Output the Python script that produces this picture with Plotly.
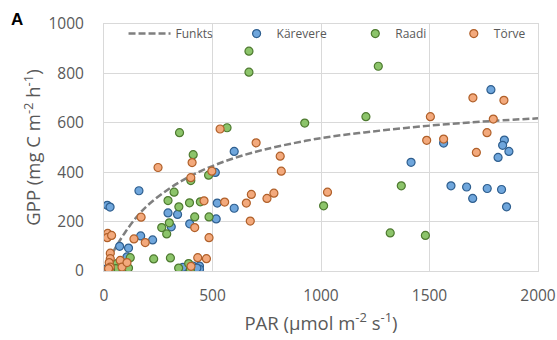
import plotly.graph_objects as go

# ---- data ----
curve_par = [20, 50, 100, 150, 200, 300, 400, 500, 600, 700, 800, 1000, 1200, 1400, 1600, 1800, 2000]
curve_gpp = [38, 90, 160, 218, 265, 333, 385, 425, 457, 483, 504, 538, 561, 580, 596, 608, 618]

karevere_par = [1783, 1845, 1837, 1866, 1816, 1415, 1565, 1599, 1671, 1699, 1766, 1832, 1855,
                600, 513, 161, 522, 600, 295, 339, 517, 395, 310, 169, 224, 72, 113, 15, 28,
                106, 14, 364, 410, 440, 440, 428]
karevere_gpp = [734, 530, 509, 484, 460, 440, 518, 345, 340, 294, 334, 330, 260,
                484, 399, 325, 275, 254, 235, 229, 211, 191, 179, 142, 126, 100, 93, 266, 259,
                57, 10, 15, 20, 20, 7, 12]

raadi_par = [668, 668, 1264, 1207, 925, 348, 567, 411, 482, 400, 323, 295, 394, 444, 345, 418,
             484, 301, 266, 289, 1370, 1012, 1319, 1481, 229, 306, 121, 60, 55, 113, 344, 390,
             398, 30]
raadi_gpp = [890, 805, 829, 625, 599, 560, 580, 471, 388, 366, 319, 285, 276, 280, 260, 219,
             219, 195, 176, 150, 345, 264, 154, 144, 49, 53, 54, 30, 10, 12, 12, 30,
             6, 5]

torve_par = [1700, 1843, 1504, 1794, 535, 1765, 701, 1487, 1565, 1716, 1030, 812, 406, 249,
             817, 497, 400, 461, 556, 656, 679, 751, 783, 674, 171, 418, 484, 138, 190, 17,
             15, 35, 432, 472, 401, 29, 29, 24, 29, 21, 75, 83, 106]
torve_gpp = [701, 691, 625, 615, 575, 560, 519, 529, 534, 480, 319, 465, 439, 419,
             404, 404, 378, 284, 279, 275, 310, 294, 315, 202, 218, 176, 135, 130, 115, 152,
             135, 144, 54, 50, 19, 72, 50, 34, 16, 10, 43, 16, 34]

x_ticks = [0, 500, 1000, 1500, 2000]
y_ticks = [0, 200, 400, 600, 800, 1000]

GRAY_TXT = "#595959"
FONT = "Open Sans"

fig = go.Figure()

fig.add_trace(go.Scatter(
    x=curve_par, y=curve_gpp, mode="lines", name="Funkts", line_shape="spline",
    line=dict(color="#7f7f7f", width=2.5, dash="7px,3px"), legend="legend",
    showlegend=True,
))

def add_points(xs, ys, name, fill, edge, leg):
    fig.add_trace(go.Scatter(
        x=xs, y=ys, mode="markers", name=name, legend=leg, showlegend=True,
        marker=dict(size=8, color=fill, line=dict(color=edge, width=1.2)),
    ))

add_points(karevere_par, karevere_gpp, "Kärevere", "#6fa6dc", "#2f5f8f", "legend2")
add_points(raadi_par, raadi_gpp, "Raadi", "#8cc46a", "#4e7a30", "legend3")
add_points(torve_par, torve_gpp, "Törve", "#f3a97c", "#b0602a", "legend4")

def leg(x, iw=30):
    return dict(
        orientation="h", x=x, y=1.02, xanchor="left", yanchor="top",
        bgcolor="rgba(0,0,0,0)", font=dict(size=12, color=GRAY_TXT, family=FONT),
        itemwidth=iw,
    )

fig.update_layout(
    width=557, height=340,
    margin=dict(l=104, r=19, t=24, b=69),
    paper_bgcolor="white", plot_bgcolor="white",
    font=dict(family=FONT, color=GRAY_TXT),
    showlegend=True,
    legend=leg(0.045, 42),
    legend2=leg(0.3055),
    legend3=leg(0.579),
    legend4=leg(0.806),
    xaxis=dict(
        range=[0, 2000], tickvals=x_ticks, showgrid=True, gridcolor="#d9d9d9", gridwidth=1,
        zeroline=False, showline=True, linecolor="#d9d9d9", mirror=True, automargin=False,
        tickfont=dict(size=15.5, color=GRAY_TXT), ticks="", ticklabelstandoff=10,
        title=dict(text="PAR (µmol m<sup>-2</sup> s<sup>-1</sup>)", font=dict(size=18.5, color=GRAY_TXT), standoff=12),
    ),
    yaxis=dict(
        range=[0, 1000], tickvals=y_ticks, showgrid=True, gridcolor="#d9d9d9", gridwidth=1,
        zeroline=False, showline=True, linecolor="#d9d9d9", mirror=True, automargin=False,
        tickfont=dict(size=15.5, color=GRAY_TXT), ticks="", ticklabelstandoff=16,
        title=dict(text="GPP (mg C m<sup>-2</sup> h<sup>-1</sup>)", font=dict(size=18.5, color=GRAY_TXT), standoff=2),
    ),
    annotations=[dict(
        text="<b>A</b>", xref="paper", yref="paper", x=-0.2, y=1.02,
        xanchor="center", yanchor="middle", showarrow=False,
        font=dict(size=17, color="black", family="Liberation Sans"),
    )],
)

fig.write_html("out.html")
